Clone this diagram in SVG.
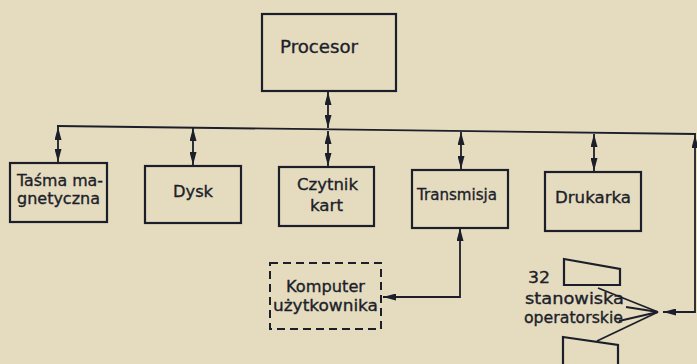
<svg xmlns="http://www.w3.org/2000/svg" width="697" height="364" viewBox="0 0 697 364">
<defs>
<marker id="ah" viewBox="0 0 13 7" refX="13" refY="3.5" markerWidth="13" markerHeight="7" markerUnits="userSpaceOnUse" orient="auto-start-reverse">
<path d="M0,0 L13,3.5 L0,7 Z" fill="#1c1f2a"/>
</marker>
</defs>
<style>
.box{fill:none;stroke:#1c1f2a;stroke-width:2.2}
.dash{fill:none;stroke:#1c1f2a;stroke-width:2;stroke-dasharray:8 5}
.ln{fill:none;stroke:#1c1f2a;stroke-width:1.8}
.ar{fill:none;stroke:#1c1f2a;stroke-width:1.8;marker-start:url(#ah);marker-end:url(#ah)}
text{font-family:"DejaVu Sans","Liberation Sans",sans-serif;font-size:16px;fill:#1c1f2a;stroke:#1c1f2a;stroke-width:0.35}
</style>
<rect x="0" y="0" width="697" height="364" fill="#e5dbbf"/>
<g id="connectors">
<polyline class="ln" points="57,126 696,134"/>
<line class="ar" x1="328" y1="92" x2="328" y2="128"/>
<line class="ar" x1="328" y1="131" x2="328" y2="166"/>
<line class="ar" x1="58" y1="127" x2="58" y2="162"/>
<line class="ar" x1="193" y1="128" x2="193" y2="165"/>
<line class="ar" x1="461" y1="132" x2="461" y2="169"/>
<line class="ar" x1="594" y1="134" x2="594" y2="171"/>
<path class="ar" d="M695,135 L695,312 L663,312"/>
<path class="ar" d="M460,228 L460,297 L383,297"/>
<line class="ln" x1="658" y1="312" x2="598" y2="288"/>
<line class="ln" x1="658" y1="312" x2="626" y2="307"/>
<line class="ln" x1="658" y1="312" x2="619" y2="321"/>
<line class="ln" x1="658" y1="312" x2="597" y2="341"/>
</g>
<g id="procesor">
<rect class="box" x="262" y="14" width="134" height="77"/>
<text x="280" y="53" textLength="78" lengthAdjust="spacingAndGlyphs" style="font-size:18px">Procesor</text>
</g>
<g id="tasma">
<rect class="box" x="10" y="163" width="97" height="59"/>
<text x="17" y="186" textLength="86" lengthAdjust="spacingAndGlyphs">Taśma ma-</text>
<text x="17" y="204" textLength="83" lengthAdjust="spacingAndGlyphs">gnetyczna</text>
</g>
<g id="dysk">
<rect class="box" x="145" y="166" width="96" height="57"/>
<text x="173" y="197" textLength="40" lengthAdjust="spacingAndGlyphs">Dysk</text>
</g>
<g id="czytnik">
<rect class="box" x="279" y="167" width="95" height="59"/>
<text x="297" y="190" textLength="61" lengthAdjust="spacingAndGlyphs">Czytnik</text>
<text x="310" y="211" textLength="33" lengthAdjust="spacingAndGlyphs">kart</text>
</g>
<g id="transmisja">
<rect class="box" x="412" y="170" width="96" height="58"/>
<text x="417" y="200" textLength="80" lengthAdjust="spacingAndGlyphs">Transmisja</text>
</g>
<g id="drukarka">
<rect class="box" x="545" y="172" width="96" height="59"/>
<text x="555" y="203" textLength="76" lengthAdjust="spacingAndGlyphs">Drukarka</text>
</g>
<g id="komputer">
<rect class="dash" x="270" y="263" width="111" height="66"/>
<text x="286" y="292" textLength="79" lengthAdjust="spacingAndGlyphs">Komputer</text>
<text x="273" y="311" textLength="105" lengthAdjust="spacingAndGlyphs">użytkownika</text>
</g>
<g id="stanowiska">
<polygon class="box" points="564,259 620,269 620,285 564,285"/>
<polygon class="box" points="563,337 618,345 618,368 563,368"/>
<text x="528" y="283" textLength="22" lengthAdjust="spacingAndGlyphs">32</text>
<text x="525" y="304" textLength="99" lengthAdjust="spacingAndGlyphs">stanowiska</text>
<text x="524" y="323" textLength="99" lengthAdjust="spacingAndGlyphs">operatorskie</text>
</g>
</svg>
